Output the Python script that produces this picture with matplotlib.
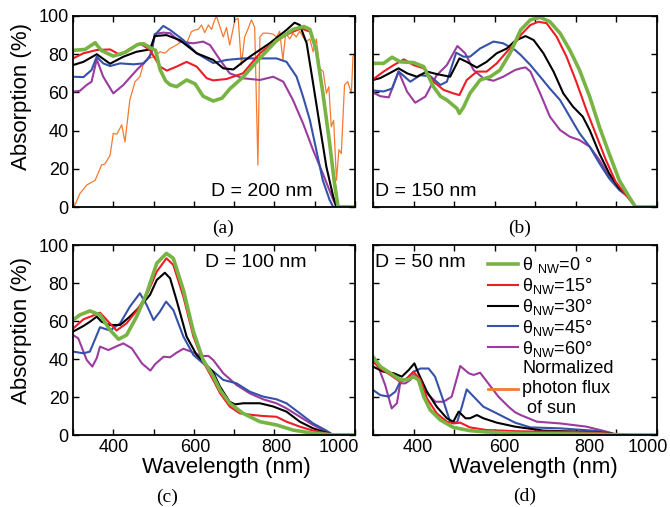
import numpy as np
import matplotlib
matplotlib.use('Agg')
import matplotlib.pyplot as plt
from matplotlib.lines import Line2D
from matplotlib.ticker import FixedLocator, FuncFormatter
from matplotlib.transforms import ScaledTranslation

plt.rcParams['font.family'] = ['Liberation Sans', 'DejaVu Sans']
plt.rcParams['mathtext.fontset'] = 'custom'
plt.rcParams['mathtext.rm'] = 'Liberation Sans'

# ---- (a) D = 200 nm ----
wl_a_0 = [300, 330, 355, 370, 400, 430, 460, 475, 495, 505, 516, 530, 541, 557, 582, 603, 623, 648, 670, 690, 722, 764, 805, 846, 873, 888, 904, 920, 937, 949, 958, 1000]
abs_a_0 = [82, 82.5, 86, 82, 79, 81, 85, 85.5, 83, 82, 72, 66, 64, 63, 66.5, 64.5, 58, 55.5, 57, 62, 68, 78, 87, 93, 94.5, 93, 82, 60, 33.5, 12.5, 0, 0]
wl_a_15 = [300, 326, 359, 392, 417, 442, 466, 491, 516, 533, 557, 582, 607, 632, 648, 681, 722, 764, 805, 846, 867, 888, 904, 920, 937, 949, 958, 1000]
abs_a_15 = [77.8, 80.5, 82.2, 82.5, 79.6, 83, 85.7, 82.2, 73.5, 71.4, 73.5, 76, 73.5, 67.4, 66.3, 67, 70, 80.5, 87.4, 91.8, 93.5, 91.8, 82, 61, 33, 14, 0, 0]
wl_a_30 = [300, 326, 359, 392, 425, 458, 491, 503, 532, 565, 607, 648, 673, 698, 739, 788, 830, 850, 863, 880, 896, 913, 929, 946, 954, 1000]
abs_a_30 = [74.3, 76, 80, 75, 78.7, 81.3, 82.5, 89.5, 90, 87.4, 80.5, 77, 72.6, 72, 78.7, 85.7, 92.7, 96.5, 95.3, 85.7, 64.7, 42, 21, 5.4, 0, 0]
wl_a_45 = [300, 326, 346, 359, 375, 392, 417, 450, 475, 491, 503, 524, 541, 574, 607, 648, 681, 722, 764, 805, 830, 855, 871, 888, 904, 920, 937, 946, 1000]
abs_a_45 = [68.2, 68, 71.7, 78.7, 75.2, 73.8, 75.2, 74.7, 75.2, 78.7, 90, 94.8, 92.7, 87.4, 80.5, 75.4, 77, 77.8, 77.8, 77.8, 76, 68.2, 57.8, 45.5, 29.8, 14, 3.7, 0, 0]
wl_a_60 = [300, 317, 334, 346, 359, 375, 400, 425, 458, 483, 495, 503, 524, 541, 565, 598, 623, 640, 665, 689, 722, 764, 797, 822, 846, 871, 896, 920, 946, 954, 1000]
abs_a_60 = [60.4, 60.8, 63.9, 65.6, 77.3, 68.2, 59.5, 63.9, 71.7, 77, 80.5, 90.6, 91.3, 91, 86.6, 85.7, 86.6, 84.8, 77, 70, 67.4, 66.5, 68.2, 65.6, 56, 43.8, 29.8, 17.6, 3.7, 0, 0]
wl_sun = [300, 305, 317, 334, 355, 371, 379, 392, 400, 409, 421, 429, 441, 454, 466, 474, 487, 503, 516, 528, 541, 557, 570, 582, 594, 603, 611, 619, 627, 636, 644, 650, 656, 673, 681, 689, 702, 710, 718, 726, 735, 743, 751, 759, 764, 772, 784, 797, 805, 813, 821, 828, 838, 846, 854, 863, 871, 879, 888, 896, 904, 912, 921, 929, 935, 941, 947, 954, 960, 966, 974, 982, 991, 995, 1000]
sun_flux = [0, 1, 7, 11.5, 14, 22, 22.5, 27, 38.5, 38.2, 43, 34, 56, 65.6, 68.2, 74.3, 77.8, 78.7, 81.3, 80.5, 83, 84.8, 86.6, 85.7, 91.8, 92.7, 93, 95.3, 91.3, 95.3, 93, 97, 100, 89, 94, 84.8, 98, 98.8, 74.3, 89, 93.5, 98, 94, 22, 89, 91, 91, 90.5, 89, 92, 77, 91, 88, 91, 89, 92, 89, 86.6, 88, 81.3, 88, 72.6, 71, 59.5, 63, 42, 45.4, 14, 30, 28, 64, 65.6, 59.5, 78.7, 80.5]

# ---- (b) D = 150 nm ----
wl_b_0 = [300, 326, 347, 367, 400, 425, 449, 466, 482, 507, 513, 523, 539, 564, 589, 613, 639, 664, 688, 712, 736, 761, 785, 809, 834, 858, 882, 907, 931, 947, 1000]
abs_b_0 = [75.2, 75.2, 78.4, 76, 75.6, 73.5, 63, 58, 56, 51.6, 49, 52.2, 59.5, 66.5, 68.2, 71.7, 81, 92.7, 98, 99.3, 97, 91, 82.2, 71.7, 57.8, 42, 28, 14, 5.4, 0, 0]
wl_b_15 = [300, 326, 351, 376, 400, 425, 449, 474, 498, 513, 531, 556, 580, 605, 630, 650, 664, 688, 708, 728, 753, 777, 801, 826, 850, 874, 898, 923, 947, 1000]
abs_b_15 = [66.8, 70.9, 74.3, 77.3, 74.3, 72.6, 65.6, 61.3, 59.5, 58.6, 66.5, 70.9, 70.9, 75.2, 81.3, 85.7, 90, 95.3, 97, 96.2, 89, 78.7, 65.6, 50.8, 37.7, 24.6, 13.3, 6.3, 0, 0]
wl_b_30 = [300, 318, 343, 363, 384, 408, 433, 457, 490, 513, 531, 556, 580, 605, 630, 650, 676, 696, 720, 745, 769, 793, 817, 834, 858, 882, 907, 931, 947, 1000]
abs_b_30 = [66.5, 67.5, 70.3, 72.6, 70, 68.2, 70.9, 69.6, 68.2, 77.8, 76, 73, 76, 80.5, 83, 87, 89.5, 87.4, 80.5, 70.9, 59.5, 52.5, 47.3, 40.3, 28, 17.6, 9.8, 5.4, 0, 0]
wl_b_45 = [300, 326, 347, 363, 392, 416, 441, 466, 482, 505, 523, 539, 564, 597, 621, 650, 664, 688, 712, 736, 761, 785, 809, 834, 858, 882, 907, 931, 947, 1000]
abs_b_45 = [61, 60.5, 62, 71, 65.6, 69, 68.5, 63.9, 65.6, 80.8, 78.7, 78.7, 83, 86.6, 85.7, 82.2, 79.6, 74.3, 68.2, 62, 56, 47.3, 38.6, 31.6, 22.9, 15, 8.9, 5, 0, 0]
wl_b_60 = [300, 318, 339, 363, 384, 404, 429, 457, 482, 508, 527, 548, 572, 597, 621, 650, 664, 676, 688, 712, 736, 761, 785, 809, 834, 858, 882, 907, 931, 947, 1000]
abs_b_60 = [59.9, 58, 57.4, 70.9, 60.4, 54.6, 57.8, 69, 74.3, 84.3, 80.5, 71.7, 67.4, 66.1, 68.2, 71.7, 72.6, 73.1, 70.9, 59.5, 47.3, 40.3, 36.8, 35, 31.6, 24.6, 15.9, 9.8, 5, 0, 0]

# ---- (c) D = 100 nm ----
wl_c_0 = [300, 317, 342, 367, 392, 413, 433, 458, 483, 508, 532, 549, 574, 599, 623, 648, 665, 689, 722, 764, 805, 846, 888, 920, 946, 1000]
abs_c_0 = [60.5, 63.2, 65.3, 63.2, 55.3, 50.4, 52.6, 62.3, 74.6, 90.4, 95.6, 93, 76.3, 54.4, 39.5, 31, 23.7, 16.7, 11.4, 7, 5.3, 2.6, 1.2, 0.5, 0, 0]
wl_c_15 = [300, 326, 347, 367, 384, 408, 433, 458, 483, 508, 532, 549, 574, 599, 623, 648, 665, 689, 714, 747, 772, 805, 830, 863, 896, 929, 946, 1000]
abs_c_15 = [56, 60.9, 62.6, 64.4, 60.5, 55, 58.8, 65.4, 73.7, 86, 93, 89.5, 72.8, 51.8, 38.6, 29, 22, 15, 11.4, 10.5, 10, 9.6, 7, 4.4, 2.3, 0.9, 0, 0]
wl_c_30 = [300, 326, 342, 359, 371, 392, 417, 441, 466, 491, 508, 528, 541, 557, 582, 607, 632, 648, 665, 689, 702, 722, 764, 797, 830, 863, 896, 929, 946, 1000]
abs_c_30 = [54.4, 57.4, 59.6, 62.3, 59.6, 57.9, 57.9, 62.3, 67.5, 73.7, 81.6, 85.4, 82.5, 71, 51.8, 42.1, 36.8, 33, 25.4, 17.5, 16.1, 16.7, 16.7, 15, 12.3, 7, 3.5, 1.2, 0, 0]
wl_c_45 = [300, 326, 342, 367, 392, 417, 441, 466, 483, 500, 516, 531, 549, 574, 599, 623, 648, 673, 706, 739, 772, 805, 830, 863, 896, 929, 946, 1000]
abs_c_45 = [43.9, 43, 43.9, 56.7, 55, 58.8, 67.5, 74.6, 68.4, 60.5, 65, 70.2, 65.8, 51.8, 42.1, 37.7, 33.5, 29, 27.2, 22.8, 20.2, 18.8, 16.7, 11.4, 6.1, 2.3, 0, 0]
wl_c_60 = [300, 313, 334, 348, 359, 367, 388, 409, 425, 446, 471, 492, 504, 525, 541, 557, 574, 594, 619, 636, 648, 673, 706, 739, 772, 805, 830, 863, 896, 929, 946, 1000]
abs_c_60 = [52.6, 50.9, 39.5, 36, 40.5, 46.5, 44.7, 46.8, 48.2, 45.6, 37.7, 33.9, 37.3, 41.2, 40.9, 43.3, 45.4, 43.8, 41.6, 41.6, 39.5, 32.5, 26.3, 21.9, 18.8, 16.7, 14, 9.6, 5.3, 1.8, 0, 0]

# ---- (d) D = 50 nm ----
wl_d_0 = [300, 318, 343, 367, 384, 400, 412, 425, 441, 466, 498, 539, 580, 621, 650, 700, 800, 900, 940, 1000]
abs_d_0 = [41.2, 36, 32.5, 29, 29, 30.7, 29, 20.2, 13.2, 7.9, 4, 2.3, 1.6, 1.2, 0.9, 0.7, 0.5, 0.2, 0, 0]
wl_d_15 = [300, 318, 343, 367, 384, 400, 417, 433, 457, 482, 498, 515, 539, 580, 621, 650, 700, 800, 850, 920, 1000]
abs_d_15 = [38.6, 35, 31.6, 28, 29.8, 33.3, 29, 19.3, 11.4, 7, 6.1, 6.5, 4, 2.6, 2.3, 2, 1.8, 1.6, 1.2, 0, 0]
wl_d_30 = [300, 326, 351, 371, 388, 402, 412, 433, 457, 482, 498, 511, 528, 539, 556, 572, 605, 650, 720, 802, 884, 904, 1000]
abs_d_30 = [36, 33.3, 32.5, 30.7, 34.2, 37.7, 32.5, 22.8, 14.9, 8.8, 7, 12.3, 8.8, 8.8, 10.5, 8.8, 6.5, 4.4, 2.3, 1.8, 0.9, 0, 0]
wl_d_45 = [300, 318, 339, 355, 367, 384, 400, 417, 437, 453, 470, 490, 507, 519, 531, 548, 572, 605, 650, 688, 761, 842, 884, 904, 1000]
abs_d_45 = [23.7, 21, 20.2, 22.8, 28, 29.8, 33.3, 35, 35, 30.7, 20.2, 7, 6.5, 14.9, 24, 20.2, 14.9, 11.4, 6.5, 4, 3.5, 2.3, 1.2, 0, 0]
wl_d_60 = [300, 313, 330, 346, 359, 367, 380, 392, 400, 417, 433, 454, 474, 494, 515, 536, 548, 564, 584, 609, 634, 650, 664, 704, 761, 826, 875, 900, 1000]
abs_d_60 = [39.5, 36, 26.3, 14, 16.7, 27.2, 27.2, 29, 31.6, 29, 21.9, 17.5, 17.5, 20.2, 36.3, 32.5, 31.6, 32.8, 27.2, 20.2, 14.9, 12, 10.5, 7, 6.1, 4.4, 1.8, 0, 0]

angles = ['0', '15', '30', '45', '60']
colors = ['#78b443', '#ee1c25', 'black', '#3552a8', '#9b3b9f']
widths = [2.6, 1.5, 1.5, 1.5, 1.5]
sun_color = '#f47a30'

panels = [
    ([wl_a_0, wl_a_15, wl_a_30, wl_a_45, wl_a_60], [abs_a_0, abs_a_15, abs_a_30, abs_a_45, abs_a_60]),
    ([wl_b_0, wl_b_15, wl_b_30, wl_b_45, wl_b_60], [abs_b_0, abs_b_15, abs_b_30, abs_b_45, abs_b_60]),
    ([wl_c_0, wl_c_15, wl_c_30, wl_c_45, wl_c_60], [abs_c_0, abs_c_15, abs_c_30, abs_c_45, abs_c_60]),
    ([wl_d_0, wl_d_15, wl_d_30, wl_d_45, wl_d_60], [abs_d_0, abs_d_15, abs_d_30, abs_d_45, abs_d_60]),
]
d_labels = ['D = 200 nm', 'D = 150 nm', 'D = 100 nm', 'D = 50 nm']

fig = plt.figure(figsize=(6.7, 5.07), dpi=100)
W, H = 670.0, 507.0
# axes boxes in pixels: left, top, right, bottom
boxes = [(73, 16, 355, 207), (373, 16, 657, 207), (73, 245, 355, 435), (373, 245, 657, 435)]
axes = []
for (l, t, r, b) in boxes:
    axes.append(fig.add_axes([l / W, 1 - b / H, (r - l) / W, (b - t) / H]))

def xfmt(v, pos):
    return '%d' % v if v in (400, 600, 800, 1000) else ''

for i, ax in enumerate(axes):
    wls, vals = panels[i]
    if i == 0:
        ax.plot(wl_sun, sun_flux, color=sun_color, lw=0.9, zorder=1)
    for k in range(5):
        ax.plot(wls[k], vals[k], color=colors[k], lw=widths[k], zorder=2.5 - k * 0.1)
    ax.set_xlim(300, 1000)
    ax.set_ylim(0, 100)
    ax.xaxis.set_major_locator(FixedLocator(np.arange(300, 1001, 100)))
    ax.yaxis.set_major_locator(FixedLocator(np.arange(0, 101, 20)))
    ax.tick_params(direction='in', top=True, right=True, length=4, width=1, labelsize=13, pad=3)
    for s in ax.spines.values():
        s.set_linewidth(1.3)
    if i < 2:
        ax.set_xticklabels([])
    else:
        ax.xaxis.set_major_formatter(FuncFormatter(xfmt))
        ax.set_xlabel('Wavelength (nm)', fontsize=16, labelpad=0)
    if i in (1, 3):
        ax.set_yticklabels([])
    else:
        ax.set_ylabel('Absorption (%)', fontsize=16, labelpad=2)

# the scanned original has its x tick labels slightly shifted
label_shift = {2: [0, 0, 0, 1, 0, 2, 0, -16], 3: [0, 4, 0, 10, 0, 14, 0, -9]}
for i, shifts in label_shift.items():
    for lab, dx in zip(axes[i].get_xticklabels(), shifts):
        lab.set_transform(lab.get_transform() + ScaledTranslation(dx / 100.0, 0, fig.dpi_scale_trans))

axes[0].text(0.85, 0.08, d_labels[0], transform=axes[0].transAxes, ha='right', va='center', fontsize=14)
axes[1].text(0.007, 0.08, d_labels[1], transform=axes[1].transAxes, ha='left', va='center', fontsize=14)
axes[2].text(0.468, 0.91, d_labels[2], transform=axes[2].transAxes, ha='left', va='center', fontsize=14)
axes[3].text(0.007, 0.91, d_labels[3], transform=axes[3].transAxes, ha='left', va='center', fontsize=14)

axes[2].xaxis.set_label_coords((226 - 73) / 282.0, -0.115)
axes[3].xaxis.set_label_coords((533 - 373) / 284.0, -0.115)
axes[0].yaxis.set_label_coords(-0.145, (207 - 97) / 191.0)
axes[2].yaxis.set_label_coords(-0.145, (435 - 331) / 190.0)

handles = [Line2D([], [], color=colors[k], lw=widths[k]) for k in range(5)]
handles.append(Line2D([], [], color=sun_color, lw=2))
leg_labels = ['θ $_{\\mathrm{NW}}$=0 °'] + ['θ$_{\\mathrm{NW}}$=%s°' % a for a in angles[1:]] + ['Normalized\nphoton flux\n of sun']
leg = axes[3].legend(handles, leg_labels, loc='upper left', bbox_to_anchor=(0.38, 0.985), frameon=False,
                     fontsize=13, handlelength=1.65, handletextpad=0.25, labelspacing=0.05, borderaxespad=0)
leg.get_texts()[5].set_linespacing(1.25)

for lab, x, y in [('(a)', 223, 228), ('(b)', 520, 228), ('(c)', 167, 497), ('(d)', 525, 496)]:
    fig.text(x / W, 1 - y / H, lab, ha='center', va='center', fontsize=14, family='Liberation Serif')

plt.savefig('out.png', dpi=100)
